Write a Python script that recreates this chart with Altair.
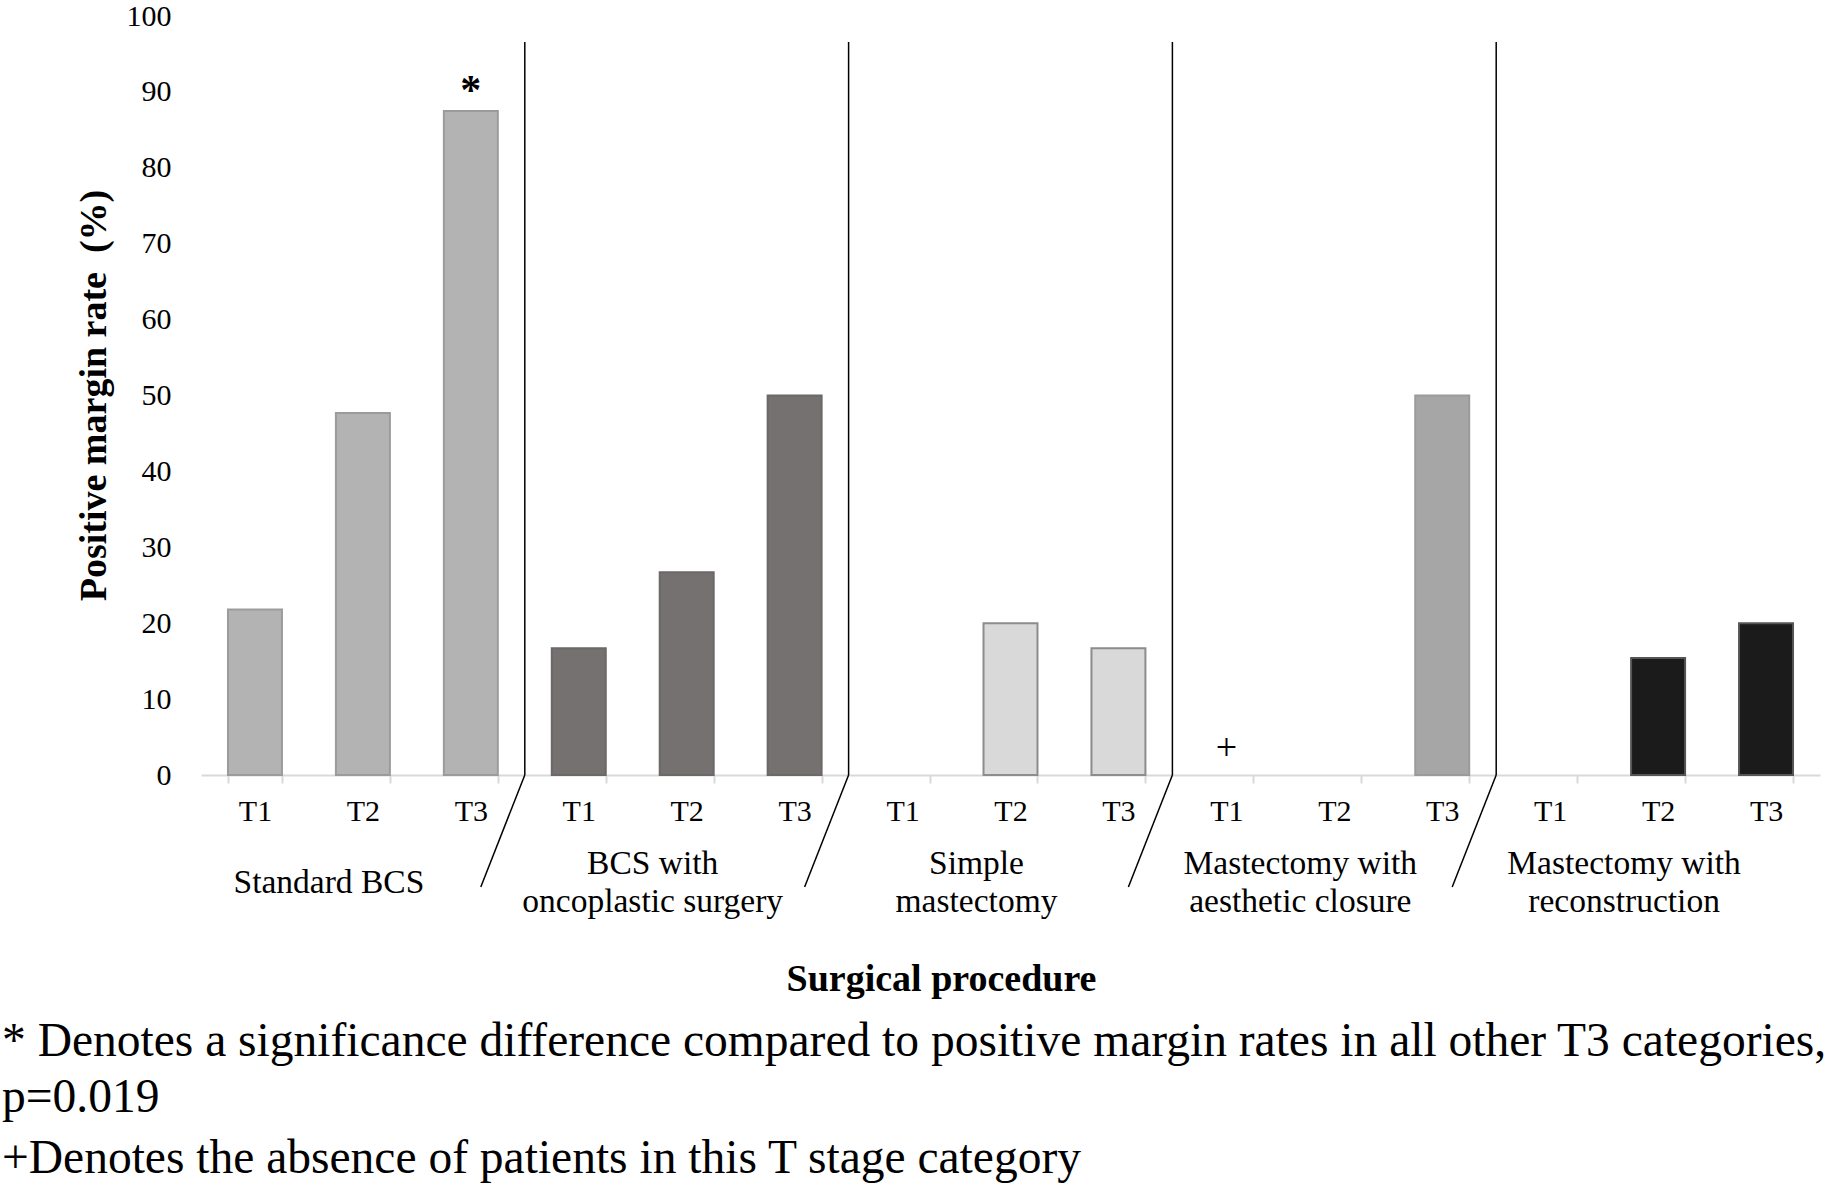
import altair as alt
import pandas as pd

# ---------------- data ----------------
groups = [
    "Standard BCS",
    "BCS with oncoplastic surgery",
    "Simple mastectomy",
    "Mastectomy with aesthetic closure",
    "Mastectomy with reconstruction",
]
group_labels = [
    "Standard BCS",
    "BCS with\noncoplastic surgery",
    "Simple\nmastectomy",
    "Mastectomy with\naesthetic closure",
    "Mastectomy with\nreconstruction",
]
stages = ["T1", "T2", "T3"]

standard_bcs = [21.8, 47.7, 87.5]
bcs_oncoplastic = [16.7, 26.7, 50.0]
simple_mastectomy = [0.0, 20.0, 16.7]
mastectomy_aesthetic = [None, 0.0, 50.0]   # T1: no patients
mastectomy_reconstruction = [0.0, 15.4, 20.0]

y_ticks = [0, 10, 20, 30, 40, 50, 60, 70, 80, 90, 100]

footnotes = [
    "* Denotes a significance difference compared to positive margin rates in all other T3 categories,",
    "p=0.019",
    "+Denotes the absence of patients in this T stage category",
]

# styles (kept separate from data)
group_fill = ["#b3b3b3", "#767171", "#d9d9d9", "#a6a6a6", "#1b1b1b"]
group_stroke = ["#9b9b9b", "#6c6868", "#8c8c8c", "#9a9a9a", "#555555"]

series = [standard_bcs, bcs_oncoplastic, simple_mastectomy,
          mastectomy_aesthetic, mastectomy_reconstruction]

keys = [f"{g}|{s}" for g in groups for s in stages]
rows = []
for g, vals in zip(groups, series):
    for s, v in zip(stages, vals):
        rows.append({"key": f"{g}|{s}", "group": g, "stage": s, "value": v})
df = pd.DataFrame(rows)

label_df = pd.DataFrame({
    "key": [f"{g}|T2" for g in groups],
    "label": group_labels,
})
sig_df = pd.DataFrame({"key": [f"{groups[0]}|T3"], "value": [standard_bcs[2]]})
absent_df = pd.DataFrame({"key": [f"{groups[3]}|T1"], "value": [0.0]})
bound_df = pd.DataFrame({"b": [3 * (i + 1) for i in range(len(groups) - 1)]})

FONT = "Liberation Serif"
W, H = 1619, 759
xscale = alt.Scale(domain=keys, paddingInner=0.5, paddingOuter=0.25)
yscale = alt.Scale(domain=[0, 100])

xaxis = alt.Axis(
    labelExpr="split(datum.value, '|')[1]",
    labelAngle=0, labelFont=FONT, labelFontSize=30, labelColor="black",
    labelBaseline="middle", labelPadding=28,
    tickBand="extent", tickSize=8, tickColor="#d9d9d9", tickWidth=2,
    domainColor="#d9d9d9", domainWidth=2,
    titleFont=FONT, titleFontSize=38, titleFontWeight="bold", titleColor="black",
    titleX=740, titleY=204, titleBaseline="middle", titleAlign="center",
)
yaxis = alt.Axis(
    values=y_ticks, ticks=False, domain=False, grid=False,
    labelFont=FONT, labelFontSize=30, labelColor="black", labelPadding=30,
    titleFont=FONT, titleFontSize=38, titleFontWeight="bold", titleColor="black",
    titleAngle=270, titleX=-107, titleY=379, titleBaseline="middle", titleAlign="center",
)

bars = alt.Chart(df).transform_filter("datum.value > 0").mark_bar(strokeWidth=2).encode(
    x=alt.X("key:N", scale=xscale, axis=xaxis, title="Surgical procedure", sort=keys),
    y=alt.Y("value:Q", scale=yscale, axis=yaxis, title="Positive margin rate\u00a0 (%)"),
    fill=alt.Fill("group:N", scale=alt.Scale(domain=groups, range=group_fill), legend=None),
    stroke=alt.Stroke("group:N", scale=alt.Scale(domain=groups, range=group_stroke), legend=None),
)

asterisk = alt.Chart(sig_df).mark_text(
    text="*", font=FONT, fontSize=42, fontWeight="bold", baseline="bottom", dy=2, color="black"
).encode(x=alt.X("key:N", scale=xscale), y=alt.Y("value:Q", scale=yscale))

absent = alt.Chart(absent_df).mark_text(
    text="+", font=FONT, fontSize=38, baseline="middle", dy=-26, color="black"
).encode(x=alt.X("key:N", scale=xscale), y=alt.Y("value:Q", scale=yscale))

label_style = dict(font=FONT, fontSize=33.5, lineBreak="\n", lineHeight=38,
                   baseline="middle", align="center", dx=-34, color="black")
glabels_one = alt.Chart(label_df).transform_filter(
    "indexof(datum.label, '\\n') < 0"
).mark_text(**label_style).encode(
    x=alt.X("key:N", scale=xscale), y=alt.value(867), text="label:N")
glabels_two = alt.Chart(label_df).transform_filter(
    "indexof(datum.label, '\\n') >= 0"
).mark_text(**label_style).encode(
    x=alt.X("key:N", scale=xscale), y=alt.value(848), text="label:N")

foot_y = [1026, 1082, 1143]
foot_layers = [
    alt.Chart(pd.DataFrame({"t": [t]})).mark_text(
        font=FONT, fontSize=47.5, align="left", baseline="middle", color="black"
    ).encode(text="t:N", x=alt.value(-199), y=alt.value(yy))
    for t, yy in zip(footnotes, foot_y)
]

main = alt.layer(bars, asterisk, absent, glabels_one, glabels_two, *foot_layers)

vrule = alt.Chart(bound_df).mark_rule(color="black", strokeWidth=1.5).encode(
    x=alt.X("b:Q", scale=alt.Scale(domain=[0, 15]), axis=None),
    y=alt.value(26), y2=alt.value(H),
)
drule = alt.Chart(bound_df).mark_rule(color="black", strokeWidth=1.5, x2Offset=-44).encode(
    x=alt.X("b:Q", scale=alt.Scale(domain=[0, 15]), axis=None),
    x2=alt.X2("b:Q"),
    y=alt.value(H), y2=alt.value(H + 112),
)
dividers = alt.layer(vrule, drule)

chart = alt.layer(main, dividers).resolve_scale(x="independent").properties(
    width=W, height=H,
    padding={"left": 201, "top": 16, "right": 16, "bottom": 411},
    autosize=alt.AutoSizeParams(type="none"),
    background="white",
).configure_view(stroke=None)

chart.save("out.html", embed_options={"renderer": "svg", "actions": False})
